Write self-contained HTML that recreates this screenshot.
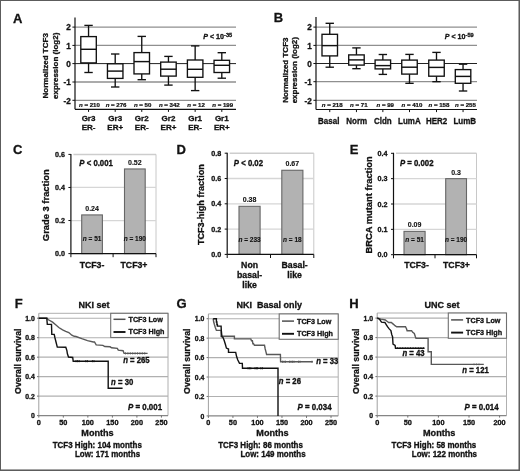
<!DOCTYPE html>
<html><head><meta charset="utf-8"><style>
html,body{margin:0;padding:0;background:#fff;}
body{width:520px;height:471px;overflow:hidden;}
svg{display:block;font-family:"Liberation Sans",sans-serif;will-change:transform;}
text{stroke:#111;stroke-width:0.3px;paint-order:stroke;}
text.ns{stroke-width:0.12px;}
text.ms{stroke-width:0.22px;}
</style></head><body>
<svg width="520" height="471" viewBox="0 0 520 471">
<rect x="0" y="0" width="520" height="471" fill="#fff"/>
<text x="13.00" y="22.80" font-size="13" text-anchor="start" font-weight="bold" font-style="normal" fill="#111" >A</text>
<text x="273.80" y="22.40" font-size="13" text-anchor="start" font-weight="bold" font-style="normal" fill="#111" >B</text>
<text x="13.00" y="154.30" font-size="13" text-anchor="start" font-weight="bold" font-style="normal" fill="#111" >C</text>
<text x="176.50" y="154.20" font-size="13" text-anchor="start" font-weight="bold" font-style="normal" fill="#111" >D</text>
<text x="349.80" y="154.30" font-size="13" text-anchor="start" font-weight="bold" font-style="normal" fill="#111" >E</text>
<text x="14.80" y="308.20" font-size="13" text-anchor="start" font-weight="bold" font-style="normal" fill="#111" >F</text>
<text x="176.40" y="308.20" font-size="13" text-anchor="start" font-weight="bold" font-style="normal" fill="#111" >G</text>
<text x="349.20" y="308.20" font-size="13" text-anchor="start" font-weight="bold" font-style="normal" fill="#111" >H</text>
<line x1="75.00" y1="27.10" x2="236.00" y2="27.10" stroke="#8f8f8f" stroke-width="1.3"/>
<line x1="75.00" y1="45.40" x2="236.00" y2="45.40" stroke="#8f8f8f" stroke-width="1.3"/>
<line x1="75.00" y1="63.60" x2="236.00" y2="63.60" stroke="#222" stroke-width="1.0"/>
<line x1="75.00" y1="82.00" x2="236.00" y2="82.00" stroke="#8f8f8f" stroke-width="1.3"/>
<line x1="75.00" y1="100.30" x2="236.00" y2="100.30" stroke="#8f8f8f" stroke-width="1.3"/>
<line x1="75.00" y1="17.50" x2="75.00" y2="109.30" stroke="#111" stroke-width="1.2"/>
<line x1="75.00" y1="109.30" x2="236.00" y2="109.30" stroke="#111" stroke-width="1.2"/>
<line x1="72.40" y1="27.10" x2="75.00" y2="27.10" stroke="#111" stroke-width="1.0"/>
<text x="70.70" y="30.30" font-size="8.2" text-anchor="end" font-weight="bold" font-style="normal" fill="#111" >2</text>
<line x1="72.40" y1="45.40" x2="75.00" y2="45.40" stroke="#111" stroke-width="1.0"/>
<text x="70.70" y="48.60" font-size="8.2" text-anchor="end" font-weight="bold" font-style="normal" fill="#111" >1</text>
<line x1="72.40" y1="63.60" x2="75.00" y2="63.60" stroke="#111" stroke-width="1.0"/>
<text x="70.70" y="66.80" font-size="8.2" text-anchor="end" font-weight="bold" font-style="normal" fill="#111" >0</text>
<line x1="72.40" y1="82.00" x2="75.00" y2="82.00" stroke="#111" stroke-width="1.0"/>
<text x="70.70" y="85.20" font-size="8.2" text-anchor="end" font-weight="bold" font-style="normal" fill="#111" >-1</text>
<line x1="72.40" y1="100.30" x2="75.00" y2="100.30" stroke="#111" stroke-width="1.0"/>
<text x="70.70" y="103.50" font-size="8.2" text-anchor="end" font-weight="bold" font-style="normal" fill="#111" >-2</text>
<line x1="88.55" y1="25.40" x2="88.55" y2="36.60" stroke="#111" stroke-width="1.35"/>
<line x1="88.55" y1="62.90" x2="88.55" y2="72.50" stroke="#111" stroke-width="1.35"/>
<line x1="84.35" y1="25.40" x2="92.75" y2="25.40" stroke="#111" stroke-width="1.35"/>
<line x1="84.35" y1="72.50" x2="92.75" y2="72.50" stroke="#111" stroke-width="1.35"/>
<rect x="80.80" y="36.60" width="15.50" height="26.30" fill="white" stroke="#111" stroke-width="1.35"/>
<line x1="80.80" y1="49.30" x2="96.30" y2="49.30" stroke="#111" stroke-width="1.45"/>
<line x1="88.55" y1="109.30" x2="88.55" y2="111.90" stroke="#111" stroke-width="1.0"/>
<text x="89.45" y="107.20" font-size="6.1" text-anchor="middle" font-weight="bold" font-style="normal" fill="#111" class="ms"><tspan font-style="italic">n</tspan> = 210</text>
<text x="88.55" y="121.10" font-size="8.0" text-anchor="middle" font-weight="bold" font-style="normal" fill="#111" >Gr3</text>
<text x="88.55" y="130.40" font-size="8.0" text-anchor="middle" font-weight="bold" font-style="normal" fill="#111" >ER-</text>
<line x1="115.20" y1="54.00" x2="115.20" y2="63.80" stroke="#111" stroke-width="1.35"/>
<line x1="115.20" y1="78.40" x2="115.20" y2="87.00" stroke="#111" stroke-width="1.35"/>
<line x1="111.00" y1="54.00" x2="119.40" y2="54.00" stroke="#111" stroke-width="1.35"/>
<line x1="111.00" y1="87.00" x2="119.40" y2="87.00" stroke="#111" stroke-width="1.35"/>
<rect x="107.45" y="63.80" width="15.50" height="14.60" fill="white" stroke="#111" stroke-width="1.35"/>
<line x1="107.45" y1="71.10" x2="122.95" y2="71.10" stroke="#111" stroke-width="1.45"/>
<line x1="115.20" y1="109.30" x2="115.20" y2="111.90" stroke="#111" stroke-width="1.0"/>
<text x="116.10" y="107.20" font-size="6.1" text-anchor="middle" font-weight="bold" font-style="normal" fill="#111" class="ms"><tspan font-style="italic">n</tspan> = 276</text>
<text x="115.20" y="121.10" font-size="8.0" text-anchor="middle" font-weight="bold" font-style="normal" fill="#111" >Gr3</text>
<text x="115.20" y="130.40" font-size="8.0" text-anchor="middle" font-weight="bold" font-style="normal" fill="#111" >ER+</text>
<line x1="141.75" y1="36.40" x2="141.75" y2="52.60" stroke="#111" stroke-width="1.35"/>
<line x1="141.75" y1="73.90" x2="141.75" y2="79.70" stroke="#111" stroke-width="1.35"/>
<line x1="137.55" y1="36.40" x2="145.95" y2="36.40" stroke="#111" stroke-width="1.35"/>
<line x1="137.55" y1="79.70" x2="145.95" y2="79.70" stroke="#111" stroke-width="1.35"/>
<rect x="134.00" y="52.60" width="15.50" height="21.30" fill="white" stroke="#111" stroke-width="1.35"/>
<line x1="134.00" y1="61.60" x2="149.50" y2="61.60" stroke="#111" stroke-width="1.45"/>
<line x1="141.75" y1="109.30" x2="141.75" y2="111.90" stroke="#111" stroke-width="1.0"/>
<text x="142.65" y="107.20" font-size="6.1" text-anchor="middle" font-weight="bold" font-style="normal" fill="#111" class="ms"><tspan font-style="italic">n</tspan> = 50</text>
<text x="141.75" y="121.10" font-size="8.0" text-anchor="middle" font-weight="bold" font-style="normal" fill="#111" >Gr2</text>
<text x="141.75" y="130.40" font-size="8.0" text-anchor="middle" font-weight="bold" font-style="normal" fill="#111" >ER-</text>
<line x1="168.45" y1="56.40" x2="168.45" y2="62.10" stroke="#111" stroke-width="1.35"/>
<line x1="168.45" y1="76.10" x2="168.45" y2="85.10" stroke="#111" stroke-width="1.35"/>
<line x1="164.25" y1="56.40" x2="172.65" y2="56.40" stroke="#111" stroke-width="1.35"/>
<line x1="164.25" y1="85.10" x2="172.65" y2="85.10" stroke="#111" stroke-width="1.35"/>
<rect x="160.70" y="62.10" width="15.50" height="14.00" fill="white" stroke="#111" stroke-width="1.35"/>
<line x1="160.70" y1="69.20" x2="176.20" y2="69.20" stroke="#111" stroke-width="1.45"/>
<line x1="168.45" y1="109.30" x2="168.45" y2="111.90" stroke="#111" stroke-width="1.0"/>
<text x="169.35" y="107.20" font-size="6.1" text-anchor="middle" font-weight="bold" font-style="normal" fill="#111" class="ms"><tspan font-style="italic">n</tspan> = 342</text>
<text x="168.45" y="121.10" font-size="8.0" text-anchor="middle" font-weight="bold" font-style="normal" fill="#111" >Gr2</text>
<text x="168.45" y="130.40" font-size="8.0" text-anchor="middle" font-weight="bold" font-style="normal" fill="#111" >ER+</text>
<line x1="195.15" y1="45.90" x2="195.15" y2="60.00" stroke="#111" stroke-width="1.35"/>
<line x1="195.15" y1="77.30" x2="195.15" y2="90.60" stroke="#111" stroke-width="1.35"/>
<line x1="190.95" y1="45.90" x2="199.35" y2="45.90" stroke="#111" stroke-width="1.35"/>
<line x1="190.95" y1="90.60" x2="199.35" y2="90.60" stroke="#111" stroke-width="1.35"/>
<rect x="187.40" y="60.00" width="15.50" height="17.30" fill="white" stroke="#111" stroke-width="1.35"/>
<line x1="187.40" y1="69.30" x2="202.90" y2="69.30" stroke="#111" stroke-width="1.45"/>
<line x1="195.15" y1="109.30" x2="195.15" y2="111.90" stroke="#111" stroke-width="1.0"/>
<text x="196.05" y="107.20" font-size="6.1" text-anchor="middle" font-weight="bold" font-style="normal" fill="#111" class="ms"><tspan font-style="italic">n</tspan> = 12</text>
<text x="195.15" y="121.10" font-size="8.0" text-anchor="middle" font-weight="bold" font-style="normal" fill="#111" >Gr1</text>
<text x="195.15" y="130.40" font-size="8.0" text-anchor="middle" font-weight="bold" font-style="normal" fill="#111" >ER-</text>
<line x1="221.80" y1="52.70" x2="221.80" y2="60.30" stroke="#111" stroke-width="1.35"/>
<line x1="221.80" y1="72.50" x2="221.80" y2="78.20" stroke="#111" stroke-width="1.35"/>
<line x1="217.60" y1="52.70" x2="226.00" y2="52.70" stroke="#111" stroke-width="1.35"/>
<line x1="217.60" y1="78.20" x2="226.00" y2="78.20" stroke="#111" stroke-width="1.35"/>
<rect x="214.05" y="60.30" width="15.50" height="12.20" fill="white" stroke="#111" stroke-width="1.35"/>
<line x1="214.05" y1="65.30" x2="229.55" y2="65.30" stroke="#111" stroke-width="1.45"/>
<line x1="221.80" y1="109.30" x2="221.80" y2="111.90" stroke="#111" stroke-width="1.0"/>
<text x="222.70" y="107.20" font-size="6.1" text-anchor="middle" font-weight="bold" font-style="normal" fill="#111" class="ms"><tspan font-style="italic">n</tspan> = 199</text>
<text x="221.80" y="121.10" font-size="8.0" text-anchor="middle" font-weight="bold" font-style="normal" fill="#111" >Gr1</text>
<text x="221.80" y="130.40" font-size="8.0" text-anchor="middle" font-weight="bold" font-style="normal" fill="#111" >ER+</text>
<text transform="translate(203.3,38.6) scale(1,1.0)" font-size="7.1" font-weight="bold" fill="#111"><tspan font-style="italic">P</tspan> &lt; 10<tspan font-size="5.6" dy="-1.9">-35</tspan></text>
<text x="0.00" y="0.00" font-size="8" text-anchor="middle" font-weight="bold" font-style="normal" fill="#111" transform="translate(48.3,65.8) rotate(-90)">Normalized TCF3</text>
<text x="0.00" y="0.00" font-size="8" text-anchor="middle" font-weight="bold" font-style="normal" fill="#111" transform="translate(57.8,65.8) rotate(-90)">expression (log2)</text>
<line x1="316.00" y1="27.10" x2="477.00" y2="27.10" stroke="#8f8f8f" stroke-width="1.3"/>
<line x1="316.00" y1="45.40" x2="477.00" y2="45.40" stroke="#8f8f8f" stroke-width="1.3"/>
<line x1="316.00" y1="63.50" x2="477.00" y2="63.50" stroke="#222" stroke-width="1.0"/>
<line x1="316.00" y1="81.70" x2="477.00" y2="81.70" stroke="#8f8f8f" stroke-width="1.3"/>
<line x1="316.00" y1="100.30" x2="477.00" y2="100.30" stroke="#8f8f8f" stroke-width="1.3"/>
<line x1="316.00" y1="17.00" x2="316.00" y2="109.50" stroke="#111" stroke-width="1.2"/>
<line x1="316.00" y1="109.50" x2="477.00" y2="109.50" stroke="#111" stroke-width="1.2"/>
<line x1="313.40" y1="27.10" x2="316.00" y2="27.10" stroke="#111" stroke-width="1.0"/>
<text x="311.70" y="30.30" font-size="8.2" text-anchor="end" font-weight="bold" font-style="normal" fill="#111" >2</text>
<line x1="313.40" y1="45.40" x2="316.00" y2="45.40" stroke="#111" stroke-width="1.0"/>
<text x="311.70" y="48.60" font-size="8.2" text-anchor="end" font-weight="bold" font-style="normal" fill="#111" >1</text>
<line x1="313.40" y1="63.50" x2="316.00" y2="63.50" stroke="#111" stroke-width="1.0"/>
<text x="311.70" y="66.70" font-size="8.2" text-anchor="end" font-weight="bold" font-style="normal" fill="#111" >0</text>
<line x1="313.40" y1="81.70" x2="316.00" y2="81.70" stroke="#111" stroke-width="1.0"/>
<text x="311.70" y="84.90" font-size="8.2" text-anchor="end" font-weight="bold" font-style="normal" fill="#111" >-1</text>
<line x1="313.40" y1="100.30" x2="316.00" y2="100.30" stroke="#111" stroke-width="1.0"/>
<text x="311.70" y="103.50" font-size="8.2" text-anchor="end" font-weight="bold" font-style="normal" fill="#111" >-2</text>
<line x1="329.75" y1="23.30" x2="329.75" y2="34.30" stroke="#111" stroke-width="1.35"/>
<line x1="329.75" y1="55.90" x2="329.75" y2="67.20" stroke="#111" stroke-width="1.35"/>
<line x1="325.55" y1="23.30" x2="333.95" y2="23.30" stroke="#111" stroke-width="1.35"/>
<line x1="325.55" y1="67.20" x2="333.95" y2="67.20" stroke="#111" stroke-width="1.35"/>
<rect x="322.00" y="34.30" width="15.50" height="21.60" fill="white" stroke="#111" stroke-width="1.35"/>
<line x1="322.00" y1="45.60" x2="337.50" y2="45.60" stroke="#111" stroke-width="1.45"/>
<line x1="329.75" y1="109.50" x2="329.75" y2="112.10" stroke="#111" stroke-width="1.0"/>
<text x="332.15" y="107.40" font-size="6.1" text-anchor="middle" font-weight="bold" font-style="normal" fill="#111" class="ms"><tspan font-style="italic">n</tspan> = 218</text>
<text x="0.00" y="0.00" font-size="9.2" text-anchor="middle" font-weight="bold" font-style="normal" fill="#111" transform="translate(328.7,124.1) scale(0.87,1)">Basal</text>
<line x1="356.45" y1="47.90" x2="356.45" y2="54.90" stroke="#111" stroke-width="1.35"/>
<line x1="356.45" y1="65.10" x2="356.45" y2="68.70" stroke="#111" stroke-width="1.35"/>
<line x1="352.25" y1="47.90" x2="360.65" y2="47.90" stroke="#111" stroke-width="1.35"/>
<line x1="352.25" y1="68.70" x2="360.65" y2="68.70" stroke="#111" stroke-width="1.35"/>
<rect x="348.70" y="54.90" width="15.50" height="10.20" fill="white" stroke="#111" stroke-width="1.35"/>
<line x1="348.70" y1="59.90" x2="364.20" y2="59.90" stroke="#111" stroke-width="1.45"/>
<line x1="356.45" y1="109.50" x2="356.45" y2="112.10" stroke="#111" stroke-width="1.0"/>
<text x="358.85" y="107.40" font-size="6.1" text-anchor="middle" font-weight="bold" font-style="normal" fill="#111" class="ms"><tspan font-style="italic">n</tspan> = 71</text>
<text x="0.00" y="0.00" font-size="9.2" text-anchor="middle" font-weight="bold" font-style="normal" fill="#111" transform="translate(356.7,124.1) scale(0.87,1)">Norm</text>
<line x1="382.85" y1="54.50" x2="382.85" y2="60.00" stroke="#111" stroke-width="1.35"/>
<line x1="382.85" y1="68.90" x2="382.85" y2="74.40" stroke="#111" stroke-width="1.35"/>
<line x1="378.65" y1="54.50" x2="387.05" y2="54.50" stroke="#111" stroke-width="1.35"/>
<line x1="378.65" y1="74.40" x2="387.05" y2="74.40" stroke="#111" stroke-width="1.35"/>
<rect x="375.10" y="60.00" width="15.50" height="8.90" fill="white" stroke="#111" stroke-width="1.35"/>
<line x1="375.10" y1="65.60" x2="390.60" y2="65.60" stroke="#111" stroke-width="1.45"/>
<line x1="382.85" y1="109.50" x2="382.85" y2="112.10" stroke="#111" stroke-width="1.0"/>
<text x="385.25" y="107.40" font-size="6.1" text-anchor="middle" font-weight="bold" font-style="normal" fill="#111" class="ms"><tspan font-style="italic">n</tspan> = 99</text>
<text x="0.00" y="0.00" font-size="9.2" text-anchor="middle" font-weight="bold" font-style="normal" fill="#111" transform="translate(382.8,124.1) scale(0.87,1)">Cldn</text>
<line x1="409.50" y1="54.40" x2="409.50" y2="60.10" stroke="#111" stroke-width="1.35"/>
<line x1="409.50" y1="74.10" x2="409.50" y2="83.30" stroke="#111" stroke-width="1.35"/>
<line x1="405.30" y1="54.40" x2="413.70" y2="54.40" stroke="#111" stroke-width="1.35"/>
<line x1="405.30" y1="83.30" x2="413.70" y2="83.30" stroke="#111" stroke-width="1.35"/>
<rect x="401.75" y="60.10" width="15.50" height="14.00" fill="white" stroke="#111" stroke-width="1.35"/>
<line x1="401.75" y1="67.20" x2="417.25" y2="67.20" stroke="#111" stroke-width="1.45"/>
<line x1="409.50" y1="109.50" x2="409.50" y2="112.10" stroke="#111" stroke-width="1.0"/>
<text x="411.90" y="107.40" font-size="6.1" text-anchor="middle" font-weight="bold" font-style="normal" fill="#111" class="ms"><tspan font-style="italic">n</tspan> = 410</text>
<text x="0.00" y="0.00" font-size="9.2" text-anchor="middle" font-weight="bold" font-style="normal" fill="#111" transform="translate(409.4,124.1) scale(0.87,1)">LumA</text>
<line x1="436.50" y1="52.40" x2="436.50" y2="60.10" stroke="#111" stroke-width="1.35"/>
<line x1="436.50" y1="76.20" x2="436.50" y2="81.70" stroke="#111" stroke-width="1.35"/>
<line x1="432.30" y1="52.40" x2="440.70" y2="52.40" stroke="#111" stroke-width="1.35"/>
<line x1="432.30" y1="81.70" x2="440.70" y2="81.70" stroke="#111" stroke-width="1.35"/>
<rect x="428.75" y="60.10" width="15.50" height="16.10" fill="white" stroke="#111" stroke-width="1.35"/>
<line x1="428.75" y1="67.40" x2="444.25" y2="67.40" stroke="#111" stroke-width="1.45"/>
<line x1="436.50" y1="109.50" x2="436.50" y2="112.10" stroke="#111" stroke-width="1.0"/>
<text x="438.90" y="107.40" font-size="6.1" text-anchor="middle" font-weight="bold" font-style="normal" fill="#111" class="ms"><tspan font-style="italic">n</tspan> = 158</text>
<text x="0.00" y="0.00" font-size="9.2" text-anchor="middle" font-weight="bold" font-style="normal" fill="#111" transform="translate(436.6,124.1) scale(0.87,1)">HER2</text>
<line x1="463.05" y1="64.20" x2="463.05" y2="69.60" stroke="#111" stroke-width="1.35"/>
<line x1="463.05" y1="83.30" x2="463.05" y2="91.00" stroke="#111" stroke-width="1.35"/>
<line x1="458.85" y1="64.20" x2="467.25" y2="64.20" stroke="#111" stroke-width="1.35"/>
<line x1="458.85" y1="91.00" x2="467.25" y2="91.00" stroke="#111" stroke-width="1.35"/>
<rect x="455.30" y="69.60" width="15.50" height="13.70" fill="white" stroke="#111" stroke-width="1.35"/>
<line x1="455.30" y1="76.40" x2="470.80" y2="76.40" stroke="#111" stroke-width="1.45"/>
<line x1="463.05" y1="109.50" x2="463.05" y2="112.10" stroke="#111" stroke-width="1.0"/>
<text x="465.45" y="107.40" font-size="6.1" text-anchor="middle" font-weight="bold" font-style="normal" fill="#111" class="ms"><tspan font-style="italic">n</tspan> = 255</text>
<text x="0.00" y="0.00" font-size="9.2" text-anchor="middle" font-weight="bold" font-style="normal" fill="#111" transform="translate(464.8,124.1) scale(0.87,1)">LumB</text>
<text transform="translate(444.8,38.8) scale(1,1.0)" font-size="7.1" font-weight="bold" fill="#111"><tspan font-style="italic">P</tspan> &lt; 10<tspan font-size="5.6" dy="-1.9">-59</tspan></text>
<text x="0.00" y="0.00" font-size="8" text-anchor="middle" font-weight="bold" font-style="normal" fill="#111" transform="translate(287.8,70.2) rotate(-90)">Normalized TCF3</text>
<text x="0.00" y="0.00" font-size="8" text-anchor="middle" font-weight="bold" font-style="normal" fill="#111" transform="translate(296.5,70.2) rotate(-90)">expression (log2)</text>
<line x1="73.40" y1="154.40" x2="156.00" y2="154.40" stroke="#cdcdcd" stroke-width="1.5"/>
<line x1="156.00" y1="154.40" x2="156.00" y2="253.60" stroke="#c8c8c8" stroke-width="1.0"/>
<line x1="70.90" y1="220.53" x2="156.00" y2="220.53" stroke="#d6d6d6" stroke-width="1.3"/>
<line x1="70.90" y1="187.47" x2="156.00" y2="187.47" stroke="#d6d6d6" stroke-width="1.3"/>
<rect x="81.70" y="214.92" width="20.70" height="38.68" fill="#b2b2b2" stroke="#666" stroke-width="1.1"/>
<text x="92.05" y="210.82" font-size="7.0" text-anchor="middle" font-weight="bold" font-style="normal" fill="#111" class="ns">0.24</text>
<text x="92.05" y="241.00" font-size="6.5" text-anchor="middle" font-weight="bold" font-style="normal" fill="#111" class="ns"><tspan font-style="italic">n</tspan> = 51</text>
<rect x="124.50" y="168.95" width="20.70" height="84.65" fill="#b2b2b2" stroke="#666" stroke-width="1.1"/>
<text x="134.85" y="164.85" font-size="7.0" text-anchor="middle" font-weight="bold" font-style="normal" fill="#111" class="ns">0.52</text>
<text x="134.85" y="241.00" font-size="6.5" text-anchor="middle" font-weight="bold" font-style="normal" fill="#111" class="ns"><tspan font-style="italic">n</tspan> = 190</text>
<line x1="70.90" y1="153.90" x2="70.90" y2="253.60" stroke="#111" stroke-width="1.2"/>
<line x1="70.90" y1="253.60" x2="156.00" y2="253.60" stroke="#111" stroke-width="1.2"/>
<line x1="68.40" y1="253.60" x2="70.90" y2="253.60" stroke="#111" stroke-width="1.0"/>
<text x="64.90" y="256.20" font-size="7.2" text-anchor="end" font-weight="bold" font-style="normal" fill="#111" >0.0</text>
<line x1="68.40" y1="220.53" x2="70.90" y2="220.53" stroke="#111" stroke-width="1.0"/>
<text x="64.90" y="223.13" font-size="7.2" text-anchor="end" font-weight="bold" font-style="normal" fill="#111" >0.2</text>
<line x1="68.40" y1="187.47" x2="70.90" y2="187.47" stroke="#111" stroke-width="1.0"/>
<text x="64.90" y="190.07" font-size="7.2" text-anchor="end" font-weight="bold" font-style="normal" fill="#111" >0.4</text>
<line x1="68.40" y1="154.40" x2="70.90" y2="154.40" stroke="#111" stroke-width="1.0"/>
<text x="64.90" y="157.00" font-size="7.2" text-anchor="end" font-weight="bold" font-style="normal" fill="#111" >0.6</text>
<line x1="70.90" y1="253.60" x2="70.90" y2="257.20" stroke="#111" stroke-width="1.0"/>
<line x1="113.10" y1="253.60" x2="113.10" y2="257.20" stroke="#111" stroke-width="1.0"/>
<line x1="156.00" y1="253.60" x2="156.00" y2="257.20" stroke="#111" stroke-width="1.0"/>
<text transform="translate(92.00,267.70) scale(1,1.06)" font-size="8.75" text-anchor="middle" font-weight="bold" font-style="normal" fill="#111" >TCF3-</text>
<text transform="translate(134.00,267.70) scale(1,1.06)" font-size="8.75" text-anchor="middle" font-weight="bold" font-style="normal" fill="#111" >TCF3+</text>
<text transform="translate(79.3,166.3) scale(1,1.1)" font-size="7.8" font-weight="bold" fill="#111"><tspan font-style="italic">P</tspan> &lt; 0.001</text>
<text x="0.00" y="0.00" font-size="9.4" text-anchor="middle" font-weight="bold" font-style="normal" fill="#111" transform="translate(49.3,205.2) rotate(-90)">Grade 3 fraction</text>
<line x1="229.70" y1="153.20" x2="313.80" y2="153.20" stroke="#cdcdcd" stroke-width="1.5"/>
<line x1="313.80" y1="153.20" x2="313.80" y2="254.40" stroke="#c8c8c8" stroke-width="1.0"/>
<line x1="227.20" y1="229.10" x2="313.80" y2="229.10" stroke="#d6d6d6" stroke-width="1.3"/>
<line x1="227.20" y1="203.80" x2="313.80" y2="203.80" stroke="#d6d6d6" stroke-width="1.3"/>
<line x1="227.20" y1="178.50" x2="313.80" y2="178.50" stroke="#d6d6d6" stroke-width="1.3"/>
<rect x="239.00" y="206.32" width="21.10" height="48.08" fill="#b2b2b2" stroke="#666" stroke-width="1.1"/>
<text x="249.55" y="202.22" font-size="7.0" text-anchor="middle" font-weight="bold" font-style="normal" fill="#111" class="ns">0.38</text>
<text x="249.55" y="241.80" font-size="6.5" text-anchor="middle" font-weight="bold" font-style="normal" fill="#111" class="ns"><tspan font-style="italic">n</tspan> = 233</text>
<rect x="281.80" y="170.27" width="21.10" height="84.13" fill="#b2b2b2" stroke="#666" stroke-width="1.1"/>
<text x="292.35" y="166.17" font-size="7.0" text-anchor="middle" font-weight="bold" font-style="normal" fill="#111" class="ns">0.67</text>
<text x="292.35" y="241.80" font-size="6.5" text-anchor="middle" font-weight="bold" font-style="normal" fill="#111" class="ns"><tspan font-style="italic">n</tspan> = 18</text>
<line x1="227.20" y1="152.70" x2="227.20" y2="254.40" stroke="#111" stroke-width="1.2"/>
<line x1="227.20" y1="254.40" x2="313.80" y2="254.40" stroke="#111" stroke-width="1.2"/>
<line x1="224.70" y1="254.40" x2="227.20" y2="254.40" stroke="#111" stroke-width="1.0"/>
<text x="221.20" y="257.00" font-size="7.2" text-anchor="end" font-weight="bold" font-style="normal" fill="#111" >0.0</text>
<line x1="224.70" y1="229.10" x2="227.20" y2="229.10" stroke="#111" stroke-width="1.0"/>
<text x="221.20" y="231.70" font-size="7.2" text-anchor="end" font-weight="bold" font-style="normal" fill="#111" >0.2</text>
<line x1="224.70" y1="203.80" x2="227.20" y2="203.80" stroke="#111" stroke-width="1.0"/>
<text x="221.20" y="206.40" font-size="7.2" text-anchor="end" font-weight="bold" font-style="normal" fill="#111" >0.4</text>
<line x1="224.70" y1="178.50" x2="227.20" y2="178.50" stroke="#111" stroke-width="1.0"/>
<text x="221.20" y="181.10" font-size="7.2" text-anchor="end" font-weight="bold" font-style="normal" fill="#111" >0.6</text>
<line x1="224.70" y1="153.20" x2="227.20" y2="153.20" stroke="#111" stroke-width="1.0"/>
<text x="221.20" y="155.80" font-size="7.2" text-anchor="end" font-weight="bold" font-style="normal" fill="#111" >0.8</text>
<line x1="227.20" y1="254.40" x2="227.20" y2="258.00" stroke="#111" stroke-width="1.0"/>
<line x1="270.50" y1="254.40" x2="270.50" y2="258.00" stroke="#111" stroke-width="1.0"/>
<line x1="313.80" y1="254.40" x2="313.80" y2="258.00" stroke="#111" stroke-width="1.0"/>
<text transform="translate(249.60,268.30) scale(1,1.06)" font-size="8.75" text-anchor="middle" font-weight="bold" font-style="normal" fill="#111" >Non</text>
<text transform="translate(249.60,278.30) scale(1,1.06)" font-size="8.75" text-anchor="middle" font-weight="bold" font-style="normal" fill="#111" >basal-</text>
<text transform="translate(249.60,288.30) scale(1,1.06)" font-size="8.75" text-anchor="middle" font-weight="bold" font-style="normal" fill="#111" >like</text>
<text transform="translate(294.60,268.30) scale(1,1.06)" font-size="8.75" text-anchor="middle" font-weight="bold" font-style="normal" fill="#111" >Basal-</text>
<text transform="translate(294.60,278.30) scale(1,1.06)" font-size="8.75" text-anchor="middle" font-weight="bold" font-style="normal" fill="#111" >like</text>
<text transform="translate(233.8,166.4) scale(1,1.1)" font-size="7.8" font-weight="bold" fill="#111"><tspan font-style="italic">P</tspan> &lt; 0.02</text>
<text x="0.00" y="0.00" font-size="9.1" text-anchor="middle" font-weight="bold" font-style="normal" fill="#111" transform="translate(204.4,204.65) rotate(-90)">TCF3-high fraction</text>
<line x1="396.00" y1="153.30" x2="476.50" y2="153.30" stroke="#cdcdcd" stroke-width="1.5"/>
<line x1="476.50" y1="153.30" x2="476.50" y2="254.70" stroke="#c8c8c8" stroke-width="1.0"/>
<line x1="393.50" y1="229.35" x2="476.50" y2="229.35" stroke="#d6d6d6" stroke-width="1.3"/>
<line x1="393.50" y1="204.00" x2="476.50" y2="204.00" stroke="#d6d6d6" stroke-width="1.3"/>
<line x1="393.50" y1="178.65" x2="476.50" y2="178.65" stroke="#d6d6d6" stroke-width="1.3"/>
<rect x="404.00" y="231.37" width="21.10" height="23.33" fill="#b2b2b2" stroke="#666" stroke-width="1.1"/>
<text x="414.55" y="227.27" font-size="7.0" text-anchor="middle" font-weight="bold" font-style="normal" fill="#111" class="ns">0.09</text>
<text x="414.55" y="242.10" font-size="6.5" text-anchor="middle" font-weight="bold" font-style="normal" fill="#111" class="ns"><tspan font-style="italic">n</tspan> = 51</text>
<rect x="445.70" y="178.64" width="20.80" height="76.06" fill="#b2b2b2" stroke="#666" stroke-width="1.1"/>
<text x="456.10" y="174.54" font-size="7.0" text-anchor="middle" font-weight="bold" font-style="normal" fill="#111" class="ns">0.3</text>
<text x="456.10" y="242.10" font-size="6.5" text-anchor="middle" font-weight="bold" font-style="normal" fill="#111" class="ns"><tspan font-style="italic">n</tspan> = 190</text>
<line x1="393.50" y1="152.80" x2="393.50" y2="254.70" stroke="#111" stroke-width="1.2"/>
<line x1="393.50" y1="254.70" x2="476.50" y2="254.70" stroke="#111" stroke-width="1.2"/>
<line x1="391.00" y1="254.70" x2="393.50" y2="254.70" stroke="#111" stroke-width="1.0"/>
<text x="387.50" y="257.30" font-size="7.2" text-anchor="end" font-weight="bold" font-style="normal" fill="#111" >0.0</text>
<line x1="391.00" y1="229.35" x2="393.50" y2="229.35" stroke="#111" stroke-width="1.0"/>
<text x="387.50" y="231.95" font-size="7.2" text-anchor="end" font-weight="bold" font-style="normal" fill="#111" >0.1</text>
<line x1="391.00" y1="204.00" x2="393.50" y2="204.00" stroke="#111" stroke-width="1.0"/>
<text x="387.50" y="206.60" font-size="7.2" text-anchor="end" font-weight="bold" font-style="normal" fill="#111" >0.2</text>
<line x1="391.00" y1="178.65" x2="393.50" y2="178.65" stroke="#111" stroke-width="1.0"/>
<text x="387.50" y="181.25" font-size="7.2" text-anchor="end" font-weight="bold" font-style="normal" fill="#111" >0.3</text>
<line x1="391.00" y1="153.30" x2="393.50" y2="153.30" stroke="#111" stroke-width="1.0"/>
<text x="387.50" y="155.90" font-size="7.2" text-anchor="end" font-weight="bold" font-style="normal" fill="#111" >0.4</text>
<line x1="393.50" y1="254.70" x2="393.50" y2="258.30" stroke="#111" stroke-width="1.0"/>
<line x1="435.00" y1="254.70" x2="435.00" y2="258.30" stroke="#111" stroke-width="1.0"/>
<line x1="476.50" y1="254.70" x2="476.50" y2="258.30" stroke="#111" stroke-width="1.0"/>
<text transform="translate(416.50,268.40) scale(1,1.06)" font-size="8.75" text-anchor="middle" font-weight="bold" font-style="normal" fill="#111" >TCF3-</text>
<text transform="translate(456.50,268.40) scale(1,1.06)" font-size="8.75" text-anchor="middle" font-weight="bold" font-style="normal" fill="#111" >TCF3+</text>
<text transform="translate(399.9,166.2) scale(1,1.1)" font-size="7.8" font-weight="bold" fill="#111"><tspan font-style="italic">P</tspan> = 0.002</text>
<text x="0.00" y="0.00" font-size="9.35" text-anchor="middle" font-weight="bold" font-style="normal" fill="#111" transform="translate(371.5,204.9) rotate(-90)">BRCA mutant fraction</text>
<line x1="38.80" y1="318.20" x2="168.00" y2="318.20" stroke="#b0b0b0" stroke-width="1.1"/>
<line x1="38.80" y1="337.68" x2="168.00" y2="337.68" stroke="#b0b0b0" stroke-width="1.1"/>
<line x1="38.80" y1="357.16" x2="168.00" y2="357.16" stroke="#b0b0b0" stroke-width="1.1"/>
<line x1="38.80" y1="376.64" x2="168.00" y2="376.64" stroke="#b0b0b0" stroke-width="1.1"/>
<line x1="38.80" y1="396.12" x2="168.00" y2="396.12" stroke="#b0b0b0" stroke-width="1.1"/>
<line x1="38.80" y1="313.30" x2="168.00" y2="313.30" stroke="#b0b0b0" stroke-width="1.0"/>
<line x1="168.00" y1="313.30" x2="168.00" y2="415.60" stroke="#b0b0b0" stroke-width="1.0"/>
<line x1="38.80" y1="313.30" x2="38.80" y2="415.60" stroke="#a0a0a0" stroke-width="1.0"/>
<line x1="38.80" y1="415.60" x2="168.00" y2="415.60" stroke="#858585" stroke-width="1.3"/>
<line x1="37.00" y1="318.20" x2="38.80" y2="318.20" stroke="#707070" stroke-width="1.0"/>
<text x="34.80" y="320.95" font-size="6.9" text-anchor="end" font-weight="bold" font-style="normal" fill="#111" >1.0</text>
<line x1="37.00" y1="337.68" x2="38.80" y2="337.68" stroke="#707070" stroke-width="1.0"/>
<text x="34.80" y="340.43" font-size="6.9" text-anchor="end" font-weight="bold" font-style="normal" fill="#111" >0.8</text>
<line x1="37.00" y1="357.16" x2="38.80" y2="357.16" stroke="#707070" stroke-width="1.0"/>
<text x="34.80" y="359.91" font-size="6.9" text-anchor="end" font-weight="bold" font-style="normal" fill="#111" >0.6</text>
<line x1="37.00" y1="376.64" x2="38.80" y2="376.64" stroke="#707070" stroke-width="1.0"/>
<text x="34.80" y="379.39" font-size="6.9" text-anchor="end" font-weight="bold" font-style="normal" fill="#111" >0.4</text>
<line x1="37.00" y1="396.12" x2="38.80" y2="396.12" stroke="#707070" stroke-width="1.0"/>
<text x="34.80" y="398.87" font-size="6.9" text-anchor="end" font-weight="bold" font-style="normal" fill="#111" >0.2</text>
<line x1="37.00" y1="415.60" x2="38.80" y2="415.60" stroke="#707070" stroke-width="1.0"/>
<text x="34.80" y="418.35" font-size="6.9" text-anchor="end" font-weight="bold" font-style="normal" fill="#111" >0</text>
<line x1="38.80" y1="415.60" x2="38.80" y2="417.60" stroke="#707070" stroke-width="1.0"/>
<text x="38.80" y="424.90" font-size="7.3" text-anchor="middle" font-weight="bold" font-style="normal" fill="#111" >0</text>
<line x1="63.32" y1="415.60" x2="63.32" y2="417.60" stroke="#707070" stroke-width="1.0"/>
<text x="63.32" y="424.90" font-size="7.3" text-anchor="middle" font-weight="bold" font-style="normal" fill="#111" >50</text>
<line x1="87.85" y1="415.60" x2="87.85" y2="417.60" stroke="#707070" stroke-width="1.0"/>
<text x="87.85" y="424.90" font-size="7.3" text-anchor="middle" font-weight="bold" font-style="normal" fill="#111" >100</text>
<line x1="112.38" y1="415.60" x2="112.38" y2="417.60" stroke="#707070" stroke-width="1.0"/>
<text x="112.38" y="424.90" font-size="7.3" text-anchor="middle" font-weight="bold" font-style="normal" fill="#111" >150</text>
<line x1="136.90" y1="415.60" x2="136.90" y2="417.60" stroke="#707070" stroke-width="1.0"/>
<text x="136.90" y="424.90" font-size="7.3" text-anchor="middle" font-weight="bold" font-style="normal" fill="#111" >200</text>
<line x1="161.43" y1="415.60" x2="161.43" y2="417.60" stroke="#707070" stroke-width="1.0"/>
<text x="161.43" y="424.90" font-size="7.3" text-anchor="middle" font-weight="bold" font-style="normal" fill="#111" >250</text>
<polyline points="38.80,318.20 46.80,318.20 48.40,319.80 52.60,322.10 55.70,324.80 58.80,327.50 62.60,329.80 65.70,331.30 68.80,332.50 71.80,335.20 74.20,336.30 76.00,336.50 81.80,338.70 87.50,340.60 93.30,342.00 94.50,342.00 96.20,344.90 102.90,345.40 104.80,346.50 110.10,346.80 111.60,347.80 117.30,348.30 118.30,350.20 123.10,350.70 124.10,353.40 147.60,353.40" fill="none" stroke="#585858" stroke-width="1.4" stroke-linejoin="miter"/>
<polyline points="38.80,318.20 46.80,318.20 47.30,324.40 51.50,324.40 51.80,334.40 54.20,334.40 55.00,338.00 56.00,342.00 57.30,347.10 65.80,347.20 66.90,350.60 67.40,353.80 68.50,357.00 72.70,357.50 73.20,361.20 108.20,361.20 108.20,388.20 122.60,388.20" fill="none" stroke="#111111" stroke-width="1.4" stroke-linejoin="miter"/>
<rect x="110.70" y="313.30" width="57.30" height="24.20" fill="white" stroke="#707070" stroke-width="1.1"/>
<line x1="113.50" y1="319.30" x2="125.50" y2="319.30" stroke="#505050" stroke-width="1.5"/>
<line x1="113.50" y1="332.00" x2="125.50" y2="332.00" stroke="#111" stroke-width="1.9"/>
<text x="128.50" y="321.90" font-size="7.2" text-anchor="start" font-weight="bold" font-style="normal" fill="#111" >TCF3 Low</text>
<text x="128.50" y="334.30" font-size="7.2" text-anchor="start" font-weight="bold" font-style="normal" fill="#111" >TCF3 High</text>
<text transform="translate(123.2,363.3) scale(1,1.1)" font-size="7.75" font-weight="bold" fill="#111"><tspan font-style="italic">n</tspan> = 265</text>
<text transform="translate(111.1,385) scale(1,1.1)" font-size="7.75" font-weight="bold" fill="#111"><tspan font-style="italic">n</tspan> = 30</text>
<text transform="translate(128,409.6) scale(1,1.1)" font-size="7.9" font-weight="bold" fill="#111"><tspan font-style="italic">P</tspan> = 0.001</text>
<text x="93.90" y="307.60" font-size="9" text-anchor="middle" font-weight="bold" font-style="normal" fill="#111" >NKI set</text>
<text x="97.50" y="435.50" font-size="9.1" text-anchor="middle" font-weight="bold" font-style="normal" fill="#111" >Months</text>
<text transform="translate(52.7,447.8) scale(1,1.1)" font-size="8.0" font-weight="bold" fill="#111">TCF3 High: 104 months</text>
<text transform="translate(74.9,457.2) scale(1,1.1)" font-size="8.0" font-weight="bold" fill="#111">Low: 171 months</text>
<text x="0.00" y="0.00" font-size="8.8" text-anchor="middle" font-weight="bold" font-style="normal" fill="#111" transform="translate(21.4,361.2) rotate(-90)">Overall survival</text>
<line x1="208.40" y1="318.70" x2="338.20" y2="318.70" stroke="#b0b0b0" stroke-width="1.1"/>
<line x1="208.40" y1="338.14" x2="338.20" y2="338.14" stroke="#b0b0b0" stroke-width="1.1"/>
<line x1="208.40" y1="357.58" x2="338.20" y2="357.58" stroke="#b0b0b0" stroke-width="1.1"/>
<line x1="208.40" y1="377.02" x2="338.20" y2="377.02" stroke="#b0b0b0" stroke-width="1.1"/>
<line x1="208.40" y1="396.46" x2="338.20" y2="396.46" stroke="#b0b0b0" stroke-width="1.1"/>
<line x1="208.40" y1="313.90" x2="338.20" y2="313.90" stroke="#b0b0b0" stroke-width="1.0"/>
<line x1="338.20" y1="313.90" x2="338.20" y2="415.90" stroke="#b0b0b0" stroke-width="1.0"/>
<line x1="208.40" y1="313.90" x2="208.40" y2="415.90" stroke="#a0a0a0" stroke-width="1.0"/>
<line x1="208.40" y1="415.90" x2="338.20" y2="415.90" stroke="#858585" stroke-width="1.3"/>
<line x1="206.60" y1="318.70" x2="208.40" y2="318.70" stroke="#707070" stroke-width="1.0"/>
<text x="204.40" y="321.45" font-size="6.9" text-anchor="end" font-weight="bold" font-style="normal" fill="#111" >1.0</text>
<line x1="206.60" y1="338.14" x2="208.40" y2="338.14" stroke="#707070" stroke-width="1.0"/>
<text x="204.40" y="340.89" font-size="6.9" text-anchor="end" font-weight="bold" font-style="normal" fill="#111" >0.8</text>
<line x1="206.60" y1="357.58" x2="208.40" y2="357.58" stroke="#707070" stroke-width="1.0"/>
<text x="204.40" y="360.33" font-size="6.9" text-anchor="end" font-weight="bold" font-style="normal" fill="#111" >0.6</text>
<line x1="206.60" y1="377.02" x2="208.40" y2="377.02" stroke="#707070" stroke-width="1.0"/>
<text x="204.40" y="379.77" font-size="6.9" text-anchor="end" font-weight="bold" font-style="normal" fill="#111" >0.4</text>
<line x1="206.60" y1="396.46" x2="208.40" y2="396.46" stroke="#707070" stroke-width="1.0"/>
<text x="204.40" y="399.21" font-size="6.9" text-anchor="end" font-weight="bold" font-style="normal" fill="#111" >0.2</text>
<line x1="206.60" y1="415.90" x2="208.40" y2="415.90" stroke="#707070" stroke-width="1.0"/>
<text x="204.40" y="418.65" font-size="6.9" text-anchor="end" font-weight="bold" font-style="normal" fill="#111" >0</text>
<line x1="208.40" y1="415.90" x2="208.40" y2="417.90" stroke="#707070" stroke-width="1.0"/>
<text x="208.40" y="424.90" font-size="7.3" text-anchor="middle" font-weight="bold" font-style="normal" fill="#111" >0</text>
<line x1="232.93" y1="415.90" x2="232.93" y2="417.90" stroke="#707070" stroke-width="1.0"/>
<text x="232.93" y="424.90" font-size="7.3" text-anchor="middle" font-weight="bold" font-style="normal" fill="#111" >50</text>
<line x1="257.45" y1="415.90" x2="257.45" y2="417.90" stroke="#707070" stroke-width="1.0"/>
<text x="257.45" y="424.90" font-size="7.3" text-anchor="middle" font-weight="bold" font-style="normal" fill="#111" >100</text>
<line x1="281.98" y1="415.90" x2="281.98" y2="417.90" stroke="#707070" stroke-width="1.0"/>
<text x="281.98" y="424.90" font-size="7.3" text-anchor="middle" font-weight="bold" font-style="normal" fill="#111" >150</text>
<line x1="306.50" y1="415.90" x2="306.50" y2="417.90" stroke="#707070" stroke-width="1.0"/>
<text x="306.50" y="424.90" font-size="7.3" text-anchor="middle" font-weight="bold" font-style="normal" fill="#111" >200</text>
<line x1="331.02" y1="415.90" x2="331.02" y2="417.90" stroke="#707070" stroke-width="1.0"/>
<text x="331.02" y="424.90" font-size="7.3" text-anchor="middle" font-weight="bold" font-style="normal" fill="#111" >250</text>
<polyline points="213.20,318.70 213.60,321.50 214.40,324.50 215.30,327.50 216.40,330.40 221.10,330.40 221.10,336.20 234.40,336.20 234.40,338.90 250.80,338.90 251.50,340.80 252.40,340.80 252.90,343.70 253.50,343.70 254.40,345.20 264.50,345.20 265.20,349.00 265.90,351.60 266.60,354.50 280.40,354.50 280.60,361.70 312.80,361.70" fill="none" stroke="#585858" stroke-width="1.4" stroke-linejoin="miter"/>
<polyline points="213.20,318.70 216.40,318.70 216.40,322.00 216.90,322.00 216.90,324.50 217.40,324.50 217.40,326.10 221.10,326.10 221.30,330.40 221.60,333.60 222.00,336.90 223.00,337.50 224.20,340.50 225.50,344.70 226.40,348.10 228.50,349.00 228.50,352.40 235.70,352.40 236.60,356.60 237.80,360.00 239.50,363.40 242.30,363.40 242.50,368.30 278.00,368.30 278.00,415.90" fill="none" stroke="#111111" stroke-width="1.4" stroke-linejoin="miter"/>
<rect x="279.20" y="313.90" width="59.00" height="25.40" fill="white" stroke="#707070" stroke-width="1.1"/>
<line x1="282.00" y1="321.10" x2="294.00" y2="321.10" stroke="#505050" stroke-width="1.5"/>
<line x1="282.00" y1="333.80" x2="294.00" y2="333.80" stroke="#111" stroke-width="1.9"/>
<text x="297.00" y="323.70" font-size="7.2" text-anchor="start" font-weight="bold" font-style="normal" fill="#111" >TCF3 Low</text>
<text x="297.00" y="336.10" font-size="7.2" text-anchor="start" font-weight="bold" font-style="normal" fill="#111" >TCF3 High</text>
<text transform="translate(316.2,364.2) scale(1,1.1)" font-size="7.75" font-weight="bold" fill="#111"><tspan font-style="italic">n</tspan> = 33</text>
<text transform="translate(278.8,384.2) scale(1,1.1)" font-size="7.75" font-weight="bold" fill="#111"><tspan font-style="italic">n</tspan> = 26</text>
<text transform="translate(297.5,409.6) scale(1,1.1)" font-size="7.9" font-weight="bold" fill="#111"><tspan font-style="italic">P</tspan> = 0.034</text>
<text x="269.20" y="307.60" font-size="9" text-anchor="middle" font-weight="bold" font-style="normal" fill="#111" >NKI&#160;&#160;Basal only</text>
<text x="272.50" y="435.50" font-size="9.1" text-anchor="middle" font-weight="bold" font-style="normal" fill="#111" >Months</text>
<text transform="translate(218.2,447.8) scale(1,1.1)" font-size="8.0" font-weight="bold" fill="#111">TCF3 High: 86 months</text>
<text transform="translate(240.4,457.2) scale(1,1.1)" font-size="8.0" font-weight="bold" fill="#111">Low: 149 months</text>
<text x="0.00" y="0.00" font-size="8.8" text-anchor="middle" font-weight="bold" font-style="normal" fill="#111" transform="translate(190.1,361.2) rotate(-90)">Overall survival</text>
<line x1="377.20" y1="318.10" x2="506.50" y2="318.10" stroke="#b0b0b0" stroke-width="1.1"/>
<line x1="377.20" y1="337.60" x2="506.50" y2="337.60" stroke="#b0b0b0" stroke-width="1.1"/>
<line x1="377.20" y1="357.10" x2="506.50" y2="357.10" stroke="#b0b0b0" stroke-width="1.1"/>
<line x1="377.20" y1="376.60" x2="506.50" y2="376.60" stroke="#b0b0b0" stroke-width="1.1"/>
<line x1="377.20" y1="396.10" x2="506.50" y2="396.10" stroke="#b0b0b0" stroke-width="1.1"/>
<line x1="377.20" y1="313.00" x2="506.50" y2="313.00" stroke="#b0b0b0" stroke-width="1.0"/>
<line x1="506.50" y1="313.00" x2="506.50" y2="415.60" stroke="#b0b0b0" stroke-width="1.0"/>
<line x1="377.20" y1="313.00" x2="377.20" y2="415.60" stroke="#a0a0a0" stroke-width="1.0"/>
<line x1="377.20" y1="415.60" x2="506.50" y2="415.60" stroke="#858585" stroke-width="1.3"/>
<line x1="375.40" y1="318.10" x2="377.20" y2="318.10" stroke="#707070" stroke-width="1.0"/>
<text x="373.20" y="320.85" font-size="6.9" text-anchor="end" font-weight="bold" font-style="normal" fill="#111" >1.0</text>
<line x1="375.40" y1="337.60" x2="377.20" y2="337.60" stroke="#707070" stroke-width="1.0"/>
<text x="373.20" y="340.35" font-size="6.9" text-anchor="end" font-weight="bold" font-style="normal" fill="#111" >0.8</text>
<line x1="375.40" y1="357.10" x2="377.20" y2="357.10" stroke="#707070" stroke-width="1.0"/>
<text x="373.20" y="359.85" font-size="6.9" text-anchor="end" font-weight="bold" font-style="normal" fill="#111" >0.6</text>
<line x1="375.40" y1="376.60" x2="377.20" y2="376.60" stroke="#707070" stroke-width="1.0"/>
<text x="373.20" y="379.35" font-size="6.9" text-anchor="end" font-weight="bold" font-style="normal" fill="#111" >0.4</text>
<line x1="375.40" y1="396.10" x2="377.20" y2="396.10" stroke="#707070" stroke-width="1.0"/>
<text x="373.20" y="398.85" font-size="6.9" text-anchor="end" font-weight="bold" font-style="normal" fill="#111" >0.2</text>
<line x1="375.40" y1="415.60" x2="377.20" y2="415.60" stroke="#707070" stroke-width="1.0"/>
<text x="373.20" y="418.35" font-size="6.9" text-anchor="end" font-weight="bold" font-style="normal" fill="#111" >0</text>
<line x1="377.20" y1="415.60" x2="377.20" y2="417.60" stroke="#707070" stroke-width="1.0"/>
<text x="377.20" y="424.90" font-size="7.3" text-anchor="middle" font-weight="bold" font-style="normal" fill="#111" >0</text>
<line x1="407.80" y1="415.60" x2="407.80" y2="417.60" stroke="#707070" stroke-width="1.0"/>
<text x="407.80" y="424.90" font-size="7.3" text-anchor="middle" font-weight="bold" font-style="normal" fill="#111" >50</text>
<line x1="438.40" y1="415.60" x2="438.40" y2="417.60" stroke="#707070" stroke-width="1.0"/>
<text x="438.40" y="424.90" font-size="7.3" text-anchor="middle" font-weight="bold" font-style="normal" fill="#111" >100</text>
<line x1="469.00" y1="415.60" x2="469.00" y2="417.60" stroke="#707070" stroke-width="1.0"/>
<text x="469.00" y="424.90" font-size="7.3" text-anchor="middle" font-weight="bold" font-style="normal" fill="#111" >150</text>
<line x1="499.60" y1="415.60" x2="499.60" y2="417.60" stroke="#707070" stroke-width="1.0"/>
<text x="499.60" y="424.90" font-size="7.3" text-anchor="middle" font-weight="bold" font-style="normal" fill="#111" >200</text>
<polyline points="377.20,318.10 377.70,318.10 381.10,319.10 385.30,320.00 387.00,321.20 388.70,322.50 391.30,322.50 393.80,324.60 395.00,325.70 396.70,326.80 405.50,326.80 406.60,329.00 407.10,330.70 411.60,330.70 412.70,332.30 414.30,333.50 415.40,336.80 416.00,338.40 428.10,338.40 428.10,351.80 431.30,351.80 431.30,364.40 483.80,364.40" fill="none" stroke="#585858" stroke-width="1.4" stroke-linejoin="miter"/>
<polyline points="377.20,318.10 377.70,318.10 379.80,319.50 381.50,322.10 384.90,322.50 386.20,324.60 387.50,326.70 389.20,328.90 390.90,330.60 391.70,334.40 392.60,336.90 393.00,344.20 395.10,345.40 395.50,348.20 424.60,348.20" fill="none" stroke="#111111" stroke-width="1.4" stroke-linejoin="miter"/>
<rect x="448.30" y="313.00" width="58.20" height="25.30" fill="white" stroke="#707070" stroke-width="1.1"/>
<line x1="451.10" y1="319.90" x2="463.10" y2="319.90" stroke="#505050" stroke-width="1.5"/>
<line x1="451.10" y1="332.60" x2="463.10" y2="332.60" stroke="#111" stroke-width="1.9"/>
<text x="466.10" y="322.50" font-size="7.2" text-anchor="start" font-weight="bold" font-style="normal" fill="#111" >TCF3 Low</text>
<text x="466.10" y="334.90" font-size="7.2" text-anchor="start" font-weight="bold" font-style="normal" fill="#111" >TCF3 High</text>
<text transform="translate(462.3,372.7) scale(1,1.1)" font-size="7.75" font-weight="bold" fill="#111"><tspan font-style="italic">n</tspan> = 121</text>
<text transform="translate(402.5,356.1) scale(1,1.1)" font-size="7.75" font-weight="bold" fill="#111"><tspan font-style="italic">n</tspan> = 43</text>
<text transform="translate(464.6,409.6) scale(1,1.1)" font-size="7.9" font-weight="bold" fill="#111"><tspan font-style="italic">P</tspan> = 0.014</text>
<text x="442.00" y="307.60" font-size="9" text-anchor="middle" font-weight="bold" font-style="normal" fill="#111" >UNC set</text>
<text x="439.20" y="435.50" font-size="9.1" text-anchor="middle" font-weight="bold" font-style="normal" fill="#111" >Months</text>
<text transform="translate(391.6,447.8) scale(1,1.1)" font-size="8.0" font-weight="bold" fill="#111">TCF3 High: 58 months</text>
<text transform="translate(411.8,457.2) scale(1,1.1)" font-size="8.0" font-weight="bold" fill="#111">Low: 122 months</text>
<text x="0.00" y="0.00" font-size="8.8" text-anchor="middle" font-weight="bold" font-style="normal" fill="#111" transform="translate(359.3,361.2) rotate(-90)">Overall survival</text>
<line x1="125.50" y1="352.40" x2="125.50" y2="354.40" stroke="#585858" stroke-width="1.0"/>
<line x1="127.90" y1="352.40" x2="127.90" y2="354.40" stroke="#585858" stroke-width="1.0"/>
<line x1="130.30" y1="352.40" x2="130.30" y2="354.40" stroke="#585858" stroke-width="1.0"/>
<line x1="132.70" y1="352.40" x2="132.70" y2="354.40" stroke="#585858" stroke-width="1.0"/>
<line x1="135.10" y1="352.40" x2="135.10" y2="354.40" stroke="#585858" stroke-width="1.0"/>
<line x1="137.50" y1="352.40" x2="137.50" y2="354.40" stroke="#585858" stroke-width="1.0"/>
<line x1="139.90" y1="352.40" x2="139.90" y2="354.40" stroke="#585858" stroke-width="1.0"/>
<line x1="142.30" y1="352.40" x2="142.30" y2="354.40" stroke="#585858" stroke-width="1.0"/>
<line x1="144.70" y1="352.40" x2="144.70" y2="354.40" stroke="#585858" stroke-width="1.0"/>
<line x1="76.00" y1="360.20" x2="76.00" y2="362.20" stroke="#111" stroke-width="1.0"/>
<line x1="77.60" y1="360.20" x2="77.60" y2="362.20" stroke="#111" stroke-width="1.0"/>
<line x1="79.20" y1="360.20" x2="79.20" y2="362.20" stroke="#111" stroke-width="1.0"/>
<line x1="85.80" y1="360.20" x2="85.80" y2="362.20" stroke="#111" stroke-width="1.0"/>
<line x1="87.40" y1="360.20" x2="87.40" y2="362.20" stroke="#111" stroke-width="1.0"/>
<line x1="92.40" y1="360.20" x2="92.40" y2="362.20" stroke="#111" stroke-width="1.0"/>
<line x1="94.00" y1="360.20" x2="94.00" y2="362.20" stroke="#111" stroke-width="1.0"/>
<line x1="248.00" y1="367.30" x2="248.00" y2="369.30" stroke="#111" stroke-width="1.0"/>
<line x1="249.40" y1="367.30" x2="249.40" y2="369.30" stroke="#111" stroke-width="1.0"/>
<line x1="250.80" y1="367.30" x2="250.80" y2="369.30" stroke="#111" stroke-width="1.0"/>
<line x1="255.00" y1="367.30" x2="255.00" y2="369.30" stroke="#111" stroke-width="1.0"/>
<line x1="256.40" y1="367.30" x2="256.40" y2="369.30" stroke="#111" stroke-width="1.0"/>
<line x1="257.60" y1="367.30" x2="257.60" y2="369.30" stroke="#111" stroke-width="1.0"/>
<line x1="260.80" y1="367.30" x2="260.80" y2="369.30" stroke="#111" stroke-width="1.0"/>
<line x1="262.40" y1="367.30" x2="262.40" y2="369.30" stroke="#111" stroke-width="1.0"/>
<line x1="282.50" y1="360.70" x2="282.50" y2="362.70" stroke="#585858" stroke-width="1.0"/>
<line x1="284.00" y1="360.70" x2="284.00" y2="362.70" stroke="#585858" stroke-width="1.0"/>
<line x1="285.50" y1="360.70" x2="285.50" y2="362.70" stroke="#585858" stroke-width="1.0"/>
<line x1="289.50" y1="360.70" x2="289.50" y2="362.70" stroke="#585858" stroke-width="1.0"/>
<line x1="291.00" y1="360.70" x2="291.00" y2="362.70" stroke="#585858" stroke-width="1.0"/>
<line x1="292.50" y1="360.70" x2="292.50" y2="362.70" stroke="#585858" stroke-width="1.0"/>
<line x1="294.00" y1="360.70" x2="294.00" y2="362.70" stroke="#585858" stroke-width="1.0"/>
<line x1="298.50" y1="360.70" x2="298.50" y2="362.70" stroke="#585858" stroke-width="1.0"/>
<line x1="300.00" y1="360.70" x2="300.00" y2="362.70" stroke="#585858" stroke-width="1.0"/>
<line x1="312.00" y1="360.70" x2="312.00" y2="362.70" stroke="#585858" stroke-width="1.0"/>
<line x1="397.50" y1="347.40" x2="397.50" y2="349.00" stroke="#111" stroke-width="1.0"/>
<line x1="400.10" y1="347.40" x2="400.10" y2="349.00" stroke="#111" stroke-width="1.0"/>
<line x1="402.70" y1="347.40" x2="402.70" y2="349.00" stroke="#111" stroke-width="1.0"/>
<line x1="405.30" y1="347.40" x2="405.30" y2="349.00" stroke="#111" stroke-width="1.0"/>
<line x1="407.90" y1="347.40" x2="407.90" y2="349.00" stroke="#111" stroke-width="1.0"/>
<line x1="410.50" y1="347.40" x2="410.50" y2="349.00" stroke="#111" stroke-width="1.0"/>
<line x1="413.10" y1="347.40" x2="413.10" y2="349.00" stroke="#111" stroke-width="1.0"/>
<line x1="415.70" y1="347.40" x2="415.70" y2="349.00" stroke="#111" stroke-width="1.0"/>
<line x1="418.30" y1="347.40" x2="418.30" y2="349.00" stroke="#111" stroke-width="1.0"/>
<line x1="420.90" y1="347.40" x2="420.90" y2="349.00" stroke="#111" stroke-width="1.0"/>
<line x1="423.50" y1="347.40" x2="423.50" y2="349.00" stroke="#111" stroke-width="1.0"/>
<line x1="474.00" y1="363.60" x2="474.00" y2="365.20" stroke="#585858" stroke-width="1.0"/>
<line x1="476.50" y1="363.60" x2="476.50" y2="365.20" stroke="#585858" stroke-width="1.0"/>
<line x1="479.00" y1="363.60" x2="479.00" y2="365.20" stroke="#585858" stroke-width="1.0"/>
<rect x="0.5" y="0.5" width="518.6" height="469.6" fill="none" stroke="#5c5c5c" stroke-width="1"/>
<line x1="519.4" y1="0" x2="519.4" y2="471" stroke="#5c5c5c" stroke-width="1.2"/>
<line x1="0" y1="470.4" x2="520" y2="470.4" stroke="#5c5c5c" stroke-width="1.2"/>
</svg>
</body></html>
